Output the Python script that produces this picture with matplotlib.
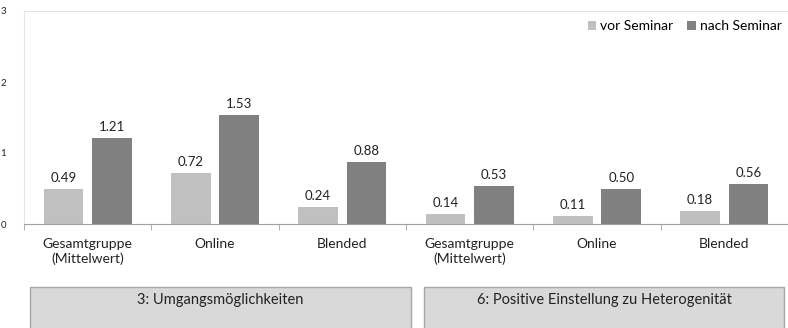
import matplotlib
matplotlib.use("Agg")
import matplotlib.pyplot as plt
from matplotlib.patches import Rectangle
import numpy as np

plt.rcParams['font.family'] = ['Lato', 'DejaVu Sans']

kategorien = ["Gesamtgruppe\n(Mittelwert)", "Online", "Blended",
              "Gesamtgruppe\n(Mittelwert)", "Online", "Blended"]
vor = [0.49, 0.72, 0.24, 0.14, 0.11, 0.18]
nach = [1.21, 1.53, 0.88, 0.53, 0.50, 0.56]
gruppen = ["3: Umgangsmöglichkeiten", "6: Positive Einstellung zu Heterogenität"]

hell = "#c0c0c0"
dunkel = "#808080"

fig = plt.figure(figsize=(7.88, 3.28), dpi=100)
W, H = 788, 328
ax = fig.add_axes([24 / W, (H - 224) / H, 764 / W, 213 / H])

x = np.arange(len(kategorien))
b = 0.31
ax.bar(x - 0.19, vor, b, color=hell, label="vor Seminar")
ax.bar(x + 0.19, nach, b, color=dunkel, label="nach Seminar")

for xi, v in zip(x, vor):
    ax.text(xi - 0.19, v + 0.07, f"{v:.2f}", ha="center", va="bottom", fontsize=9.5, color="#222222")
for xi, v in zip(x, nach):
    ax.text(xi + 0.19, v + 0.07, f"{v:.2f}", ha="center", va="bottom", fontsize=9.5, color="#222222")

ax.set_xlim(-0.5, len(kategorien) - 0.5)
ax.set_ylim(0, 3)
ax.set_yticks([0, 1, 2, 3])
ax.tick_params(axis="y", length=0, labelsize=7, pad=13, labelcolor="#222222")
ax.set_xticks(x)
ax.set_xticklabels(kategorien, fontsize=10, color="#222222", linespacing=1.25)
ax.tick_params(axis="x", length=0, pad=10)
ax.set_xticks(np.arange(len(kategorien)) - 0.5, minor=True)
ax.tick_params(axis="x", which="minor", length=4, color="#a0a0a0")

for s in ["top", "left", "right"]:
    ax.spines[s].set_color("#dce6f2")
ax.spines["right"].set_visible(False)
ax.spines["bottom"].set_color("#a0a0a0")

ax.legend(loc="upper right", frameon=False, fontsize=10, ncol=2, handlelength=0.6,
          handleheight=0.6, handletextpad=0.3, columnspacing=1.0,
          bbox_to_anchor=(1.008, 1.015))

# Gruppenkästen unten
for (x0, x1), txt in zip([(30, 411), (424, 784)], gruppen):
    fig.patches.append(Rectangle((x0 / W, -0.05), (x1 - x0) / W, (H - 287) / H + 0.05,
                                 transform=fig.transFigure, facecolor="#d9d9d9",
                                 edgecolor="#a6a6a6", linewidth=1))
    fig.text((x0 + x1) / 2 / W, (H - 300) / H, txt, ha="center", va="center",
             fontsize=10.5, color="#222222")

fig.savefig("out.png", dpi=100)
